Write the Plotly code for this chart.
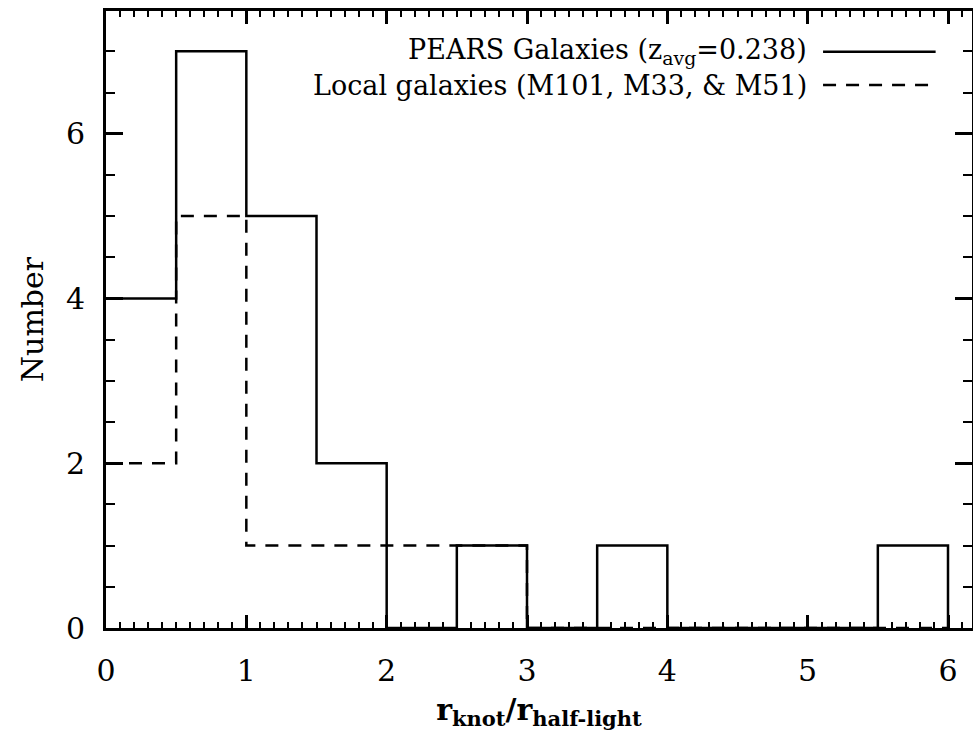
import plotly.graph_objects as go

# Histogram bins (lower edges) and counts
bin_edges = [0.0, 0.5, 1.0, 1.5, 2.0, 2.5, 3.0, 3.5, 4.0, 4.5, 5.0, 5.5, 6.0]
pears_counts = [4, 7, 5, 2, 0, 1, 0, 1, 0, 0, 0, 1]
local_counts = [2, 5, 1, 1, 1, 1, 0, 0, 0, 0, 0, 0]

x_ticks = [0, 1, 2, 3, 4, 5, 6]
y_ticks = [0, 2, 4, 6]

pears_label = "PEARS Galaxies (z<sub>avg</sub>=0.238)"
local_label = "Local galaxies (M101, M33, &amp; M51)"

X_RANGE = [0, 6.171]
Y_RANGE = [0, 7.49]

LABEL_FONT = "DejaVu Serif"
LEGEND_FONT = "DejaVu Serif"


def step_xy(edges, counts):
    """Step outline for a histogram: one point per bin edge, drop to zero at the end."""
    xs = list(edges)
    ys = list(counts) + [0]
    return xs, ys


fig = go.Figure()

lx, ly = step_xy(bin_edges, local_counts)
fig.add_trace(go.Scatter(x=lx, y=ly, mode="lines", line_shape="hv",
                         line=dict(color="black", width=2.5, dash="13px,10px"),
                         showlegend=False, hoverinfo="skip"))

px_, py_ = step_xy(bin_edges, pears_counts)
fig.add_trace(go.Scatter(x=px_, y=py_, mode="lines", line_shape="hv",
                         line=dict(color="black", width=2.5),
                         showlegend=False, hoverinfo="skip"))

# invisible trace to carry the mirrored top/right axes
fig.add_trace(go.Scatter(x=[X_RANGE[0]], y=[Y_RANGE[0]], xaxis="x2", yaxis="y2",
                         mode="markers", marker=dict(opacity=0),
                         showlegend=False, hoverinfo="skip"))

common_axis = dict(showgrid=False, zeroline=False, showline=True,
                   linecolor="black", linewidth=3, ticks="inside",
                   tickcolor="black", tickwidth=2.5)

fig.update_layout(
    width=973, height=740,
    margin=dict(l=106, r=1, t=11, b=112),
    plot_bgcolor="white", paper_bgcolor="white",
    xaxis=dict(range=X_RANGE, tickvals=x_ticks, ticklen=13,
               minor=dict(dtick=0.1, ticklen=6, tickwidth=2, ticks="inside",
                          tickcolor="black", showgrid=False),
               tickfont=dict(family=LABEL_FONT, size=30, color="black"),
               ticklabelstandoff=14,
               title=dict(text="<b>r<sub>knot</sub>/r<sub>half-light</sub></b>",
                          font=dict(family=LABEL_FONT, size=30, color="black"),
                          standoff=12),
               **common_axis),
    yaxis=dict(range=Y_RANGE, tickvals=y_ticks, ticklen=17,
               minor=dict(dtick=0.5, ticklen=9, tickwidth=2, ticks="inside",
                          tickcolor="black", showgrid=False),
               tickfont=dict(family=LABEL_FONT, size=30, color="black"),
               ticklabelstandoff=12,
               title=dict(text="Number",
                          font=dict(family=LABEL_FONT, size=30, color="black"),
                          standoff=14),
               **common_axis),
    xaxis2=dict(range=X_RANGE, overlaying="x", side="top", anchor="y",
                tickvals=x_ticks, ticklen=13, showticklabels=False,
                minor=dict(dtick=0.1, ticklen=6, tickwidth=2, ticks="inside",
                           tickcolor="black", showgrid=False),
                **common_axis),
    yaxis2=dict(range=Y_RANGE, overlaying="y", side="right", anchor="x",
                tickvals=y_ticks, ticklen=17, showticklabels=False,
                minor=dict(dtick=0.5, ticklen=9, tickwidth=2, ticks="inside",
                           tickcolor="black", showgrid=False),
                **common_axis),
)

# key: text on the left, line sample on the right
legend_rows = [(pears_label, "solid", 0.934), (local_label, "13px,10px", 0.880)]
for text, dash, yy in legend_rows:
    fig.add_annotation(xref="paper", yref="paper", x=0.812, y=yy,
                       xanchor="right", yanchor="middle", showarrow=False,
                       text=text, font=dict(family=LEGEND_FONT, size=27, color="black"))
    fig.add_shape(type="line", xref="paper", yref="paper",
                  x0=0.828, x1=0.958, y0=yy, y1=yy,
                  line=dict(color="black", width=2.5, dash=dash))

fig.write_html("out.html")
